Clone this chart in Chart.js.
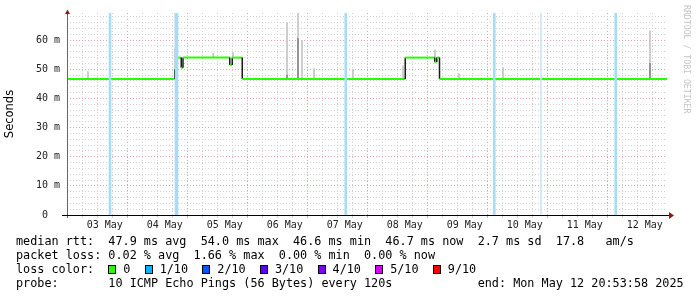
<!DOCTYPE html>
<html>
<head>
<meta charset="utf-8">
<script src="https://cdn.jsdelivr.net/npm/chart.js@4.4.1/dist/chart.umd.min.js"></script>
<style>
  html, body { margin: 0; padding: 0; background: #fff; }
  #wrap { position: relative; width: 697px; height: 297px; overflow: hidden; }
  #chart { position: absolute; left: 0; top: 0; }
  .legend {
    position: absolute; left: 16px; top: 234px; margin: 0;
    font-family: "DejaVu Sans Mono", monospace; font-size: 11.8px;
    line-height: 14.1px; color: #000; white-space: pre;
  }
  .cell { display: inline-block; width: 15px; }
  .box { display: inline-block; width: 6px; height: 7px; border: 1px solid #000; vertical-align: -1px; }
  #credit {
    position: absolute; left: 682px; top: 5px;
    writing-mode: vertical-rl; font-family: "DejaVu Sans Mono", monospace;
    font-size: 8.2px; line-height: 10px; color: #c4c4c4; white-space: pre;
  }
</style>
</head>
<body>
<div id="wrap">
  <canvas id="chart" width="697" height="297"></canvas>
  <div id="credit">RRDTOOL / TOBI OETIKER</div>
  <div class="legend" id="legend"></div>
</div>
<script>
// hours counted from 02 May 00:00
const START_H = 20.9;
const END_H = 260.9;
const Y_MAX = 69.3;

const dayLabels = ["03 May", "04 May", "05 May", "06 May", "07 May", "08 May", "09 May", "10 May", "11 May", "12 May"];
const yLabelValues = [0, 10, 20, 30, 40, 50, 60];

// median rtt (ms)
const medianHours = [20.9, 64.0, 64.0, 64.5, 64.5, 66.6, 66.6, 67.3, 67.3, 86.0, 86.0, 87.0, 87.0, 91.0, 91.0,
                     156.2, 156.2, 168.0, 168.0, 168.8, 168.8, 169.9, 169.9, 260.9];
const medianMs    = [46.7, 46.7, 50.0, 50.0, 54.0, 54.0, 50.5, 50.5, 54.0, 54.0, 51.5, 51.5, 54.0, 54.0, 46.7,
                     46.7, 54.0, 54.0, 52.5, 52.5, 54.0, 54.0, 46.7, 46.7];

// smoke (ping spread), light outer part
const smokeHours = [29.3, 64.3, 79.4, 87.3, 108.9, 113.3, 114.9, 119.7, 135.3, 155.3, 168.1, 177.7, 195.3, 254.1];
const smokeLo    = [46.7, 46.7, 54.0, 54.0, 46.7, 46.7, 46.7, 46.7, 46.7, 46.7, 54.0, 46.7, 46.7, 46.7];
const smokeHi    = [49.2, 69.3, 55.5, 55.7, 66.0, 69.3, 59.8, 50.2, 50.0, 51.2, 56.7, 48.5, 50.5, 63.2];

// smoke, dense inner part
const denseHours = [64.3, 108.9, 113.3, 254.1];
const denseLo    = [50.0, 46.7, 46.7, 46.7];
const denseHi    = [57.0, 48.0, 60.5, 52.0];

// packet loss events (1/10)
const lossHours = [38.1, 64.5, 64.9, 132.4, 191.8, 240.4];
// faint loss mark
const faintLossHours = [210.5];

const GRID = "#d2d2d2";
const MGRID = "#e6a3a3";
const LOSS_COLORS = [["0", "#26ff00"], ["1/10", "#00b8ff"], ["2/10", "#0059ff"], ["3/10", "#5e00ff"],
                     ["4/10", "#7e00ff"], ["5/10", "#dd00ff"], ["9/10", "#ff0000"]];

const xGrid = [];
for (let h = 24; h < END_H; h += 6) xGrid.push(h);
const yGrid = [];
for (let v = 0; v < Y_MAX; v += 2) yGrid.push(v);

function dayLabel(v) {
  if (v % 24 !== 12) return "";
  return dayLabels[(v - 36) / 24] || "";
}

const axisArrows = {
  id: "axisArrows",
  afterDraw(chart) {
    const { ctx, chartArea: a } = chart;
    ctx.save();
    ctx.lineWidth = 1;
    ctx.strokeStyle = "#666";
    ctx.beginPath();
    ctx.moveTo(a.left + 0.5, a.bottom + 3);
    ctx.lineTo(a.left + 0.5, a.top);
    ctx.stroke();
    ctx.strokeStyle = "#000";
    ctx.beginPath();
    ctx.moveTo(a.left - 5, a.bottom + 0.5);
    ctx.lineTo(a.right + 2, a.bottom + 0.5);
    ctx.stroke();
    ctx.fillStyle = "#8b1a1a";
    ctx.beginPath();
    ctx.moveTo(a.left - 2, a.top + 1);
    ctx.lineTo(a.left + 3, a.top + 1);
    ctx.lineTo(a.left + 0.5, a.top - 3.5);
    ctx.closePath();
    ctx.fill();
    ctx.beginPath();
    ctx.moveTo(a.right + 2, a.bottom - 3);
    ctx.lineTo(a.right + 2, a.bottom + 4);
    ctx.lineTo(a.right + 7, a.bottom + 0.5);
    ctx.closePath();
    ctx.fill();
    ctx.restore();
  }
};

new Chart(document.getElementById("chart"), {
  type: "line",
  data: {
    datasets: [
      {
        type: "bar",
        data: lossHours.map(h => ({ x: h, y: [0, Y_MAX] })),
        backgroundColor: "#a6dcf5",
        barThickness: 2,
        grouped: false,
        order: 0
      },
      {
        type: "bar",
        data: faintLossHours.map(h => ({ x: h, y: [0, Y_MAX] })),
        backgroundColor: "#c9e9f7",
        barThickness: 1,
        grouped: false,
        order: 0
      },
      {
        type: "line",
        data: medianHours.map((h, i) => ({ x: h, y: medianMs[i] })),
        borderColor: "#26ff00",
        borderWidth: 2,
        pointRadius: 0,
        tension: 0,
        segment: {
          borderColor: c => c.p0.parsed.x === c.p1.parsed.x ? "#1c1c1c" : undefined,
          borderWidth: c => c.p0.parsed.x === c.p1.parsed.x ? 1.5 : undefined
        },
        order: 1
      },
      {
        type: "bar",
        data: denseHours.map((h, i) => ({ x: h, y: [denseLo[i], denseHi[i]] })),
        backgroundColor: "#8a8a8a",
        barThickness: 1,
        grouped: false,
        order: 2
      },
      {
        type: "bar",
        data: smokeHours.map((h, i) => ({ x: h, y: [smokeLo[i], smokeHi[i]] })),
        backgroundColor: "#c4c4c4",
        barThickness: 1,
        grouped: false,
        order: 3
      }
    ]
  },
  options: {
    responsive: false,
    animation: false,
    events: [],
    layout: { padding: { top: 12, right: 30, left: 0, bottom: 0 } },
    plugins: { legend: { display: false }, tooltip: { enabled: false } },
    scales: {
      x: {
        type: "linear",
        min: START_H,
        max: END_H,
        offset: false,
        afterFit: s => { s.height = 82; },
        afterBuildTicks: s => { s.ticks = xGrid.map(v => ({ value: v })); },
        grid: {
          color: c => c.tick && c.tick.value % 24 === 0 ? MGRID : GRID,
          lineWidth: 1,
          drawTicks: true,
          tickLength: 3
        },
        border: { display: false, dash: [1, 2] },
        ticks: {
          autoSkip: false,
          maxRotation: 0,
          padding: 1,
          color: "#222",
          font: { family: "DejaVu Sans Mono", size: 10 },
          callback: v => dayLabel(v)
        }
      },
      y: {
        type: "linear",
        min: 0,
        max: Y_MAX,
        afterFit: s => { s.width = 67; },
        afterBuildTicks: s => { s.ticks = yGrid.map(v => ({ value: v })); },
        grid: {
          color: c => {
            const v = c.tick ? c.tick.value : 1;
            if (v === 0) return "rgba(0,0,0,0)";
            return yLabelValues.includes(v) ? MGRID : GRID;
          },
          lineWidth: 1,
          drawTicks: false
        },
        border: { display: false, dash: [1, 2] },
        ticks: {
          autoSkip: false,
          padding: 7,
          color: "#222",
          font: { family: "DejaVu Sans Mono", size: 10 },
          callback: v => yLabelValues.includes(v) ? (v === 0 ? "0  " : v + " m") : ""
        },
        title: {
          display: true,
          text: "Seconds",
          color: "#000",
          font: { family: "DejaVu Sans", size: 11.5 },
          padding: { top: 3, bottom: 0 }
        }
      }
    }
  },
  plugins: [axisArrows]
});

// text legend below the plot
const legendLines = [
  "median rtt:  47.9 ms avg  54.0 ms max  46.6 ms min  46.7 ms now  2.7 ms sd  17.8   am/s",
  "packet loss: 0.02 % avg  1.66 % max  0.00 % min  0.00 % now",
  null,
  "probe:       10 ICMP Echo Pings (56 Bytes) every 120s            end: Mon May 12 20:53:58 2025"
];
const legendEl = document.getElementById("legend");
legendLines.forEach(line => {
  const div = document.createElement("div");
  if (line === null) {
    div.appendChild(document.createTextNode("loss color:  "));
    LOSS_COLORS.forEach(([label, color]) => {
      const cell = document.createElement("span");
      cell.className = "cell";
      const box = document.createElement("span");
      box.className = "box";
      box.style.background = color;
      cell.appendChild(box);
      div.appendChild(cell);
      div.appendChild(document.createTextNode(label + "  "));
    });
  } else {
    div.textContent = line;
  }
  legendEl.appendChild(div);
});
</script>
</body>
</html>
